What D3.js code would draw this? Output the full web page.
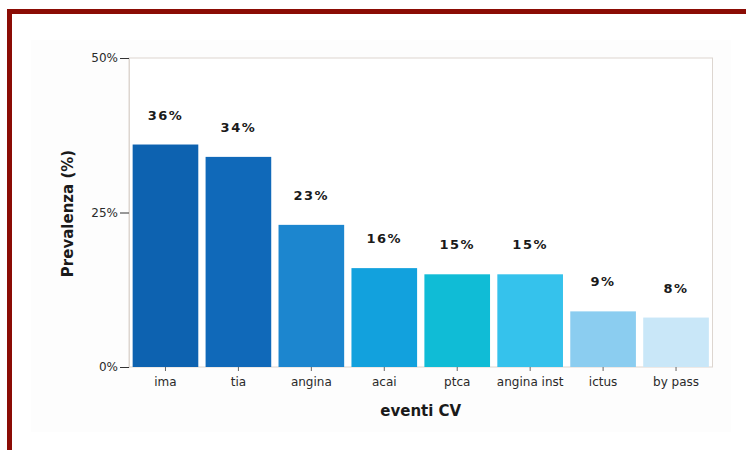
<!DOCTYPE html>
<html>
<head>
<meta charset="utf-8">
<script src="https://cdn.jsdelivr.net/npm/d3@7"></script>
<style>
  html, body { margin: 0; padding: 0; background: #ffffff; }
  svg { display: block; }
</style>
</head>
<body>
<svg id="chart" width="746" height="450"></svg>
<script>
// Prevalence of cardiovascular events
const categories = ["ima", "tia", "angina", "acai", "ptca", "angina inst", "ictus", "by pass"];
const prevalence = [36, 34, 23, 16, 15, 15, 9, 8];
const barColors = ["#0d62b0", "#1069b9", "#1c86cf", "#12a1dd", "#10bcd6", "#35c2ec", "#8bcdf0", "#c9e7f8"];
const yTicks = [0, 25, 50];

const svg = d3.select("#chart");

// outer frame
svg.append("rect").attr("x", 0).attr("y", 0).attr("width", 746).attr("height", 450).attr("fill", "#ffffff");
svg.append("rect").attr("x", 31).attr("y", 40).attr("width", 700).attr("height", 392).attr("fill", "#fdfdfd");
svg.append("rect").attr("x", 7).attr("y", 9).attr("width", 745).attr("height", 5).attr("fill", "#8b0c05");
svg.append("rect").attr("x", 7).attr("y", 9).attr("width", 5).attr("height", 445).attr("fill", "#8b0c05");

const plotLeft = 129, plotRight = 712.5, plotTop = 58, plotBottom = 367;

const x = d3.scaleBand().domain(categories).range([plotLeft, plotRight]).paddingInner(0.1).paddingOuter(0.05);
const y = d3.scaleLinear().domain([0, 50]).range([plotBottom, plotTop]);

// plot area
svg.append("rect")
  .attr("x", plotLeft).attr("y", plotTop)
  .attr("width", plotRight - plotLeft).attr("height", plotBottom - plotTop)
  .attr("fill", "#ffffff").attr("stroke", "#ddd6d0").attr("stroke-width", 1);

const data = categories.map((c, i) => ({ c, v: prevalence[i], color: barColors[i] }));

svg.append("g").selectAll("rect").data(data).join("rect")
  .attr("x", d => x(d.c))
  .attr("y", d => y(d.v))
  .attr("width", x.bandwidth())
  .attr("height", d => y(0) - y(d.v))
  .attr("fill", d => d.color);

// value labels
svg.append("g").selectAll("text").data(data).join("text")
  .attr("x", d => x(d.c) + x.bandwidth() / 2)
  .attr("y", d => y(d.v) - 25)
  .attr("text-anchor", "middle")
  .attr("font-family", "DejaVu Sans, Verdana, sans-serif")
  .attr("font-weight", "bold")
  .attr("font-size", 13)
  .attr("letter-spacing", "1.5px")
  .attr("fill", "#1a1a1a")
  .text(d => d.v + "%");

// y axis
const yAxis = d3.axisLeft(y).tickValues(yTicks).tickFormat(d => d + "%").tickSize(9).tickPadding(2);
const gy = svg.append("g").attr("transform", `translate(${plotLeft},0)`).call(yAxis);
gy.select(".domain").attr("stroke", "#ddd6d0");
gy.selectAll(".tick line").attr("stroke", "#333");
gy.selectAll(".tick text")
  .attr("font-family", "DejaVu Sans, Verdana, sans-serif")
  .attr("font-size", 12)
  .attr("fill", "#2a2a2a");

// x axis
const xAxis = d3.axisBottom(x).tickSize(4).tickPadding(6);
const gx = svg.append("g").attr("transform", `translate(0,${plotBottom})`).call(xAxis);
gx.select(".domain").remove();
gx.selectAll(".tick line").attr("stroke", "#666");
gx.selectAll(".tick text")
  .attr("font-family", "DejaVu Sans, Verdana, sans-serif")
  .attr("font-size", 12)
  .attr("fill", "#2a2a2a");

// axis titles
svg.append("text")
  .attr("transform", `translate(73,${(plotTop + plotBottom) / 2 + 1}) rotate(-90)`)
  .attr("text-anchor", "middle")
  .attr("font-family", "DejaVu Sans, Verdana, sans-serif")
  .attr("font-weight", "bold")
  .attr("font-size", 15)
  .attr("fill", "#1a1a1a")
  .text("Prevalenza (%)");

svg.append("text")
  .attr("x", (plotLeft + plotRight) / 2)
  .attr("y", 416)
  .attr("text-anchor", "middle")
  .attr("font-family", "DejaVu Sans, Verdana, sans-serif")
  .attr("font-weight", "bold")
  .attr("font-size", 15)
  .attr("fill", "#1a1a1a")
  .text("eventi CV");
</script>
</body>
</html>
